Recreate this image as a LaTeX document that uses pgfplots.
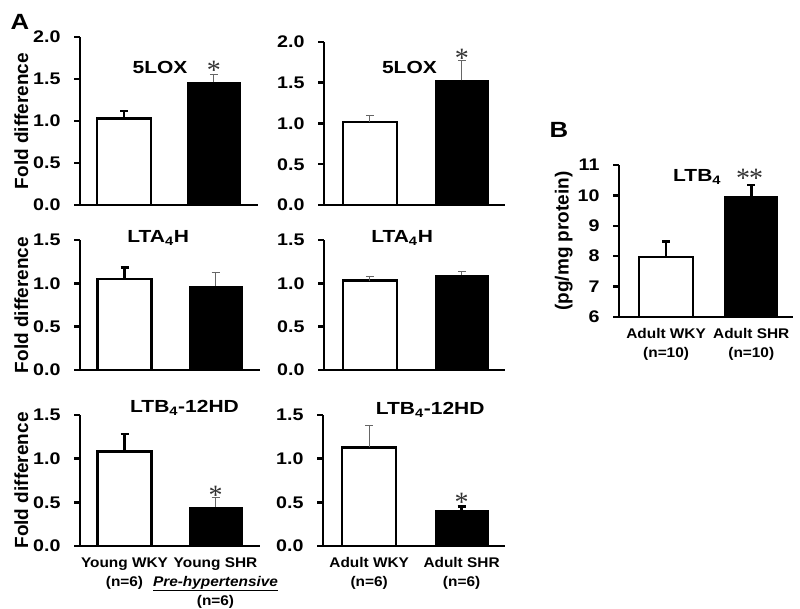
\documentclass[border=0pt]{standalone}
\usepackage{fontspec}
\setmainfont{Liberation Sans Bold}[
  BoldFont={Liberation Sans Bold},
  ItalicFont={Liberation Sans Bold Italic},
  BoldItalicFont={Liberation Sans Bold Italic}]
\newfontfamily\rotfont{Liberation Sans Bold}
\newfontfamily\starfont{Liberation Serif}
\usepackage{graphicx}
\usepackage{pgfplots}
\pgfplotsset{compat=1.18}

% the figure's lettering is set a little wide
\newcommand{\sx}[1]{\scalebox{1.17}[1]{#1}}
\newcommand{\cx}[1]{\scalebox{1.1}[1]{#1}}

\pgfplotsset{
  panel/.style={
    scale only axis, clip=false,
    axis lines*=left,
    axis line style={line width=2.5pt, black},
    ybar, bar width=54pt, bar shift=0pt,
    ymin=0,
    xtick={1,2}, xtick style={draw=none},
    tick align=outside, major tick length=6pt,
    ytick style={line width=2.5pt, black},
    yticklabel={\sx{\pgfmathprintnumber{\tick}}},
    yticklabel style={font=\fontsize{16.8}{18}\selectfont, xshift=-10pt,
      /pgf/number format/.cd, fixed, fixed zerofill, precision=1, assume math mode=true},
    xticklabel style={align=center, yshift=-2pt, font=\fontsize{14}{19}\selectfont},
    ylabel style={font=\rotfont\fontsize{19}{20}\selectfont},
    ylabel shift=-2pt,
    xticklabels={},
  },
  leftcol/.style={panel, xmin=0.511, xmax=2.489},
  rightcol/.style={panel, xmin=0.5, xmax=2.47},
  whitebar/.style={draw=black, fill=white, line width=2.5pt},
  blackbar/.style={draw=none, fill=black},
  errthick/.style={error bars/.cd, y dir=plus, y explicit, error mark=|,
    error bar style={line width=2.5pt, black},
    error mark options={line width=2.5pt, black, mark size=4pt}},
  errthin/.style={error bars/.cd, y dir=plus, y explicit, error mark=|,
    error bar style={line width=1pt, black!60},
    error mark options={line width=1pt, black!60, mark size=4pt}},
}
\newcommand{\ttl}[1]{\scalebox{1.2}[1]{\fontsize{17.5}{18}\selectfont #1}}
\newcommand{\sig}{\starfont\fontsize{28}{28}\selectfont\color{black!80}*}

\begin{document}
\begin{tikzpicture}
\useasboundingbox (0pt,0pt) rectangle (800pt,609pt);

% A, top row: 5LOX
\begin{axis}[leftcol, at={(80pt,404pt)}, anchor=south west, width=178pt, height=168pt,
  ymax=2.0, ytick={0,0.5,1,1.5,2}, ylabel={Fold difference}]
\addplot[whitebar, errthick] coordinates {(1,1.03) +- (0,0.09)};
\addplot[blackbar, errthin] coordinates {(2,1.46) +- (0,0.09)};
\node at (axis cs:1.40,1.64) {\ttl{5LOX}};
\node at (axis cs:2.0,1.60) {\sig};
\end{axis}

\begin{axis}[rightcol, at={(324pt,404pt)}, anchor=south west, width=181pt, height=163pt,
  ymax=2.0, ytick={0,0.5,1,1.5,2}]
\addplot[whitebar, errthin] coordinates {(1,1.02) +- (0,0.08)};
\addplot[blackbar, errthin] coordinates {(2,1.53) +- (0,0.24)};
\node at (axis cs:1.43,1.69) {\ttl{5LOX}};
\node at (axis cs:2.0,1.80) {\sig};
\end{axis}

% middle row: LTA4H
\begin{axis}[leftcol, at={(80pt,239pt)}, anchor=south west, width=180pt, height=130pt,
  ymax=1.5, ytick={0,0.5,1,1.5}, ylabel={Fold difference}]
\addplot[whitebar, errthick] coordinates {(1,1.05) +- (0,0.13)};
\addplot[blackbar, errthin] coordinates {(2,0.97) +- (0,0.16)};
\node at (axis cs:1.37,1.52) {\ttl{LTA\textsubscript{4}H}};
\end{axis}

\begin{axis}[rightcol, at={(324pt,239pt)}, anchor=south west, width=181pt, height=130pt,
  ymax=1.5, ytick={0,0.5,1,1.5}]
\addplot[whitebar, errthin] coordinates {(1,1.03) +- (0,0.05)};
\addplot[blackbar, errthin] coordinates {(2,1.10) +- (0,0.04)};
\node at (axis cs:1.35,1.52) {\ttl{LTA\textsubscript{4}H}};
\end{axis}

% bottom row: LTB4-12HD
\begin{axis}[leftcol, at={(80pt,63pt)}, anchor=south west, width=180pt, height=131pt,
  ymax=1.5, ytick={0,0.5,1,1.5}, ylabel={Fold difference},
  xticklabels={\cx{Young WKY}\\\cx{(n=6)},
    \cx{Young SHR}\\\cx{\underline{\textit{Pre-hypertensive}}}\\\cx{(n=6)}}]
\addplot[whitebar, errthick] coordinates {(1,1.08) +- (0,0.20)};
\addplot[blackbar, errthin] coordinates {(2,0.45) +- (0,0.11)};
\node at (axis cs:1.66,1.58) {\ttl{LTB\textsubscript{4}-12HD}};
\node at (axis cs:2.0,0.58) {\sig};
\end{axis}

\begin{axis}[rightcol, at={(323pt,63pt)}, anchor=south west, width=182pt, height=131pt,
  ymax=1.5, ytick={0,0.5,1,1.5},
  xticklabels={\cx{Adult WKY}\\\cx{(n=6)}, \cx{Adult SHR}\\\cx{(n=6)}}]
\addplot[whitebar, errthin] coordinates {(1,1.13) +- (0,0.25)};
\addplot[blackbar, errthick] coordinates {(2,0.41) +- (0,0.04)};
\node at (axis cs:1.66,1.56) {\ttl{LTB\textsubscript{4}-12HD}};
\node at (axis cs:2.0,0.50) {\sig};
\end{axis}

% B: LTB4
\begin{axis}[panel, at={(619pt,292pt)}, anchor=south west, width=174pt, height=152pt,
  xmin=0.447, xmax=2.49, ymin=6, ymax=11, ytick={6,7,8,9,10,11},
  yticklabel style={/pgf/number format/.cd, fixed, precision=0, fixed zerofill=false, assume math mode=true},
  ylabel={(pg/mg protein)},
  xticklabels={\cx{Adult WKY}\\\cx{(n=10)}, \cx{Adult SHR}\\\cx{(n=10)}}]
\addplot[whitebar, errthick] coordinates {(1,7.97) +- (0,0.52)};
\addplot[blackbar, errthick] coordinates {(2,9.98) +- (0,0.37)};
\node at (axis cs:1.365,10.6) {\ttl{LTB\textsubscript{4}}};
\node at (axis cs:1.98,10.55) {\sig\kern-1pt\sig};
\end{axis}

\node[font=\fontsize{22}{22}\selectfont] at (20pt,587pt) {\sx{A}};
\node[font=\fontsize{22}{22}\selectfont] at (559pt,479pt) {\sx{B}};
\end{tikzpicture}
\end{document}
